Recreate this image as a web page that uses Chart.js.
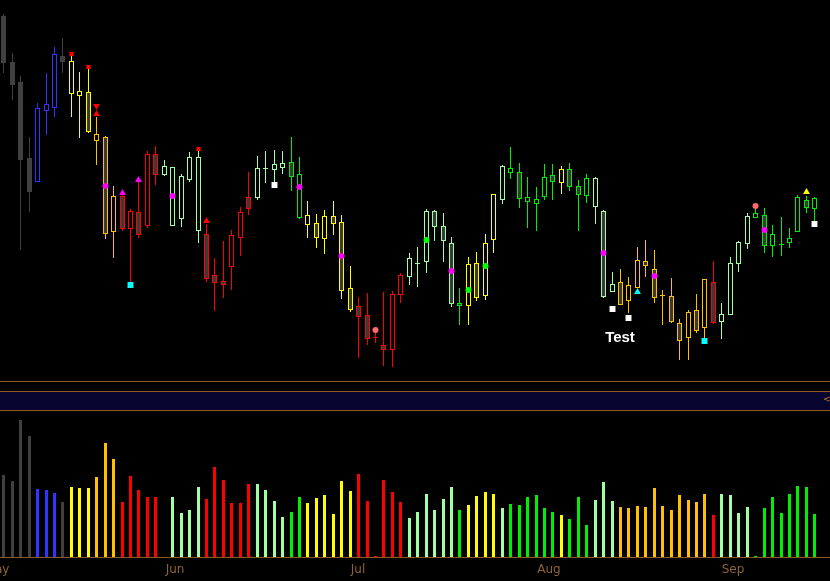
<!DOCTYPE html>
<html><head><meta charset="utf-8">
<script src="https://cdn.jsdelivr.net/npm/chart.js@4.4.1/dist/chart.umd.min.js"></script>
<style>
html,body{margin:0;padding:0;background:#000;overflow:hidden;}
#wrap{position:relative;width:830px;height:581px;background:#000;}
#top{position:absolute;left:0;top:0;}
#bot{position:absolute;left:0;top:411px;}
.hl{position:absolute;left:0;width:830px;height:1px;background:#8a5a22;}
#band{position:absolute;left:0;top:391px;width:830px;height:20px;box-sizing:border-box;background:#07042f;border-top:1px solid #8a5a22;border-bottom:1px solid #8a5a22;}
#arrow{position:absolute;left:823px;top:394px;color:#c07a2a;font:9px 'DejaVu Sans';line-height:10px;}
</style></head><body>
<div id="wrap">
<canvas id="top" width="830" height="381"></canvas>
<div class="hl" style="top:381px"></div>
<div id="band"></div>
<div id="arrow">&lt;</div>
<canvas id="bot" width="830" height="170"></canvas>
</div>
<script>
// ---- data (price panel) ----
const opens = [38.40,33.80,31.80,24.20,21.83,28.93,29.23,34.40,30.63,30.43,
 30.77,25.93,26.33,16.77,20.40,17.07,18.80,17.43,24.60,22.53,
 17.43,18.13,22.03,16.93,16.57,12.47,11.87,13.33,16.23,20.27,
 20.23,23.10,23.03,23.23,23.77,18.23,17.53,17.67,16.13,18.37,
 17.77,11.17,9.37,8.47,6.23,5.47,4.97,10.47,12.27,13.63,
 13.77,18.90,17.37,15.67,9.67,9.43,13.67,10.43,16.03,20.03,
 22.73,22.77,19.83,19.63,20.33,22.47,21.67,23.07,21.37,20.37,
 19.27,18.87,10.77,11.77,9.87,11.17,13.87,13.07,10.40,10.37,
 7.67,6.23,8.97,7.23,11.77,7.83,8.53,13.63,15.63,18.17,
 18.47,15.37,15.53,15.67,16.77,19.97,19.07];
const highs = [38.60,34.73,32.40,26.33,29.73,32.73,35.33,36.23,34.70,32.80,
 33.13,28.30,26.43,21.40,20.60,19.07,21.90,24.90,25.43,24.00,
 23.33,22.63,24.80,24.93,17.60,14.23,15.90,17.00,19.27,22.83,
 24.40,24.90,25.00,24.90,26.30,24.30,19.90,18.60,19.00,19.90,
 18.47,13.40,10.30,10.70,6.70,10.80,10.90,12.70,14.67,15.30,
 19.10,19.00,18.70,16.30,11.20,14.30,14.80,16.60,20.57,23.53,
 25.30,23.73,22.30,21.30,23.60,23.60,23.37,23.70,22.00,22.57,
 22.27,19.00,12.77,13.10,12.27,15.30,16.00,15.00,10.97,12.17,
 8.07,9.00,10.57,12.07,13.90,9.67,14.27,15.90,18.67,19.07,
 19.17,17.47,18.27,17.17,20.47,20.37,20.27];
const lows = [32.70,30.00,15.00,18.80,21.83,26.53,28.33,32.73,28.33,26.23,
 26.67,23.53,16.13,14.23,16.93,11.73,16.23,17.23,21.53,22.43,
 17.43,17.33,21.83,15.73,11.83,8.93,10.23,11.00,14.40,18.50,
 20.00,21.73,21.80,22.60,20.93,18.10,16.23,15.23,14.63,16.53,
 10.13,8.80,4.23,5.53,5.73,3.43,3.33,9.73,11.53,11.33,
 12.73,15.93,13.83,9.33,7.50,7.50,9.93,10.03,14.73,19.63,
 22.13,19.23,17.23,16.93,20.00,20.03,20.63,20.93,16.93,19.73,
 17.65,10.23,10.77,9.47,8.67,11.17,12.27,9.67,7.53,7.73,
 4.00,4.00,6.73,6.23,7.63,6.13,8.53,12.83,15.13,18.17,
 14.67,14.33,14.43,15.23,16.77,18.73,17.90];
const closes = [33.73,31.53,24.00,20.80,29.20,29.57,34.60,33.83,33.90,30.90,
 26.83,26.57,16.57,20.37,17.10,18.90,16.53,24.60,22.53,23.40,
 23.27,22.37,24.30,24.27,12.13,11.73,11.53,16.47,18.77,19.13,
 23.17,23.10,23.57,23.70,22.33,22.60,18.47,16.23,18.37,17.63,
 10.93,9.03,8.27,6.13,6.23,4.97,10.57,12.47,14.17,13.63,
 18.90,17.33,15.93,9.63,9.37,13.57,10.23,15.67,20.57,23.37,
 23.17,20.13,20.27,20.07,22.27,21.77,23.07,21.27,20.47,22.17,
 22.17,10.35,11.57,9.47,11.47,13.97,13.37,10.17,10.40,7.83,
 5.93,8.77,6.93,12.07,7.73,8.57,13.67,15.77,18.37,18.67,
 15.37,16.57,15.53,16.17,20.27,19.17,20.17];
// trend state per bar: K neutral, B blue, Y yellow, A amber, R red, L light green, G green
const trend = "KKKKBBBKYYYAAARRRRRLLLLLRRRRRRLLLLGGYYYYYYRRRRRRLLLLLLGYYYYLGGGGGGYGGGLLLAAAAAAAAAAARLLLLGGGGGGGG".split('');
// volume (thousands)
const volumes = [820,760,1370,1210,680,670,640,550,700,690,
 690,800,1140,980,550,810,670,600,600,0,
 600,440,470,700,580,900,770,540,540,730,
 730,670,560,400,450,600,540,590,620,430,
 760,660,830,560,10,770,650,550,390,450,
 630,470,580,700,470,520,610,650,630,490,
 530,520,600,620,490,450,420,380,600,320,
 570,750,560,500,490,510,500,690,510,470,
 620,570,550,630,420,630,620,440,500,10,
 490,600,440,630,710,700,430];
// signal markers [bar index, price]
const magentaDots = [[12,21.4],[20,20.4],[35,21.27],[40,14.4],[53,12.87],[71,14.67],[77,12.37],[90,16.97]];
const magentaTriangles = [[14,20.7],[16,22.0]];
const greenDots = [[50,15.97],[55,10.97],[57,13.37]];
const salmonDots = [[44,6.97],[89,19.37]];
const redSquares = [[8,34.63],[10,33.3],[23,25.1]];
const redUpTriangles = [[11,28.6],[24,17.93]];
const redDownArrows = [[11,29.4]];
const cyanSquares = [[15,11.5],[83,5.9]];
const cyanTriangles = [[75,10.77]];
const whiteSquares = [[32,21.5],[72,9.1],[74,8.2],[96,17.6]];
const yellowTriangles = [[95,20.77]];
const notes = [{bar:73, price:5.8, text:'Test'}];
// month tick labels (position in bar units)
const monthTickPos = [-0.76, 20.32, 42.02, 64.57, 86.41];
const monthTickNames = ['May','Jun','Jul','Aug','Sep'];

// ---- styles ----
const trendColor = {K:'#404040',B:'#3434ff',Y:'#ffff00',A:'#ffc000',R:'#ff0000',L:'#a0ffa0',G:'#00ee00'};
const filledBody = '#3a3a3a';
const brown = '#8a5a22';
const X_MIN = -0.39, X_MAX = X_MIN + 830/8.448;

const idx = opens.map((_, i) => i);
const colors = trend.map(t => trendColor[t]);
const bodyFill = idx.map(i => trend[i] === 'K' ? trendColor.K : (closes[i] < opens[i] ? filledBody : '#000000'));
const pts = arr => arr.map(([i, p]) => ({x: i, y: p}));
const marker = (arr, color, style, radius, rotation) => ({
  type: 'scatter', data: pts(arr), pointStyle: style, pointRadius: radius, pointHoverRadius: radius,
  backgroundColor: color, borderColor: color, borderWidth: 0, rotation: rotation || 0
});

Chart.defaults.animation = false;

// half-pixel shift so pixel-aligned bars render crisp
const crisp = {
  id: 'crisp',
  beforeDatasetsDraw(chart) { chart.ctx.save(); chart.ctx.translate(0.5, 0); },
  afterDatasetsDraw(chart) { chart.ctx.restore(); }
};
const notePlugin = {
  id: 'notes',
  afterDraw(chart) {
    const {ctx, scales} = chart;
    ctx.save();
    ctx.font = 'bold 15px "Liberation Sans", Arial, sans-serif';
    ctx.fillStyle = '#ffffff';
    ctx.textAlign = 'center';
    ctx.textBaseline = 'alphabetic';
    notes.forEach(n => ctx.fillText(n.text, scales.x.getPixelForValue(n.bar), scales.y.getPixelForValue(n.price)));
    ctx.restore();
  }
};
const monthPlugin = {
  id: 'months',
  afterDraw(chart) {
    const {ctx, scales, chartArea} = chart;
    ctx.save();
    ctx.font = '12px "DejaVu Sans", sans-serif';
    ctx.fillStyle = '#8b6336';
    ctx.textAlign = 'center';
    ctx.textBaseline = 'alphabetic';
    monthTickPos.forEach((v, i) => ctx.fillText(monthTickNames[i], scales.x.getPixelForValue(v), chartArea.bottom + 16));
    ctx.restore();
  }
};

new Chart(document.getElementById('top'), {
  type: 'bar',
  data: {
    datasets: [
      marker(magentaDots, '#ff00ff', 'circle', 3),
      marker(magentaTriangles, '#ff00ff', 'triangle', 4),
      marker(greenDots, '#00ff00', 'circle', 3),
      marker(salmonDots, '#ff6a6a', 'circle', 3),
      marker(redSquares, '#ff0000', 'rect', 3),
      marker(redUpTriangles, '#ff0000', 'triangle', 4),
      marker(redDownArrows, '#ff0000', 'triangle', 4, 180),
      marker(cyanSquares, '#00ffff', 'rect', 4.2),
      marker(cyanTriangles, '#00ffff', 'triangle', 4),
      marker(whiteSquares, '#ffffff', 'rect', 4.2),
      marker(yellowTriangles, '#ffff00', 'triangle', 4),
      {
        type: 'bar', data: idx.map(i => ({x: i, y: [opens[i], closes[i]]})),
        backgroundColor: bodyFill, borderColor: colors, borderWidth: 1, borderSkipped: false,
        barThickness: 5, minBarLength: 1, grouped: false, inflateAmount: 0
      },
      {
        type: 'bar', data: idx.map(i => ({x: i, y: [lows[i], highs[i]]})),
        backgroundColor: colors, borderWidth: 0, barThickness: 1, grouped: false, inflateAmount: 0
      }
    ]
  },
  options: {
    responsive: false, animation: false,
    layout: {padding: 0, autoPadding: false},
    plugins: {legend: {display: false}, tooltip: {enabled: false}},
    events: [],
    scales: {
      x: {type: 'linear', min: X_MIN, max: X_MAX, offset: false, display: false, bounds: 'data', alignToPixels: true},
      y: {type: 'linear', min: 1.9, max: 40, display: false, alignToPixels: true}
    }
  },
  plugins: [crisp, notePlugin]
});

new Chart(document.getElementById('bot'), {
  type: 'bar',
  data: {
    datasets: [{
      data: idx.map(i => ({x: i, y: volumes[i]})),
      backgroundColor: colors, borderWidth: 0, barThickness: 3, grouped: false, inflateAmount: 0
    }]
  },
  options: {
    responsive: false, animation: false,
    layout: {padding: {top: 0, bottom: 24, left: 0, right: 0}, autoPadding: false},
    plugins: {legend: {display: false}, tooltip: {enabled: false}},
    events: [],
    scales: {
      x: {
        type: 'linear', min: X_MIN, max: X_MAX, offset: false, bounds: 'data', alignToPixels: true,
        grid: {display: false, drawTicks: false},
        border: {display: true, color: brown, width: 1},
        ticks: {display: false}
      },
      y: {type: 'linear', min: 0, max: 1460, display: false, alignToPixels: true}
    }
  },
  plugins: [crisp, monthPlugin]
});
</script>
</body></html>
